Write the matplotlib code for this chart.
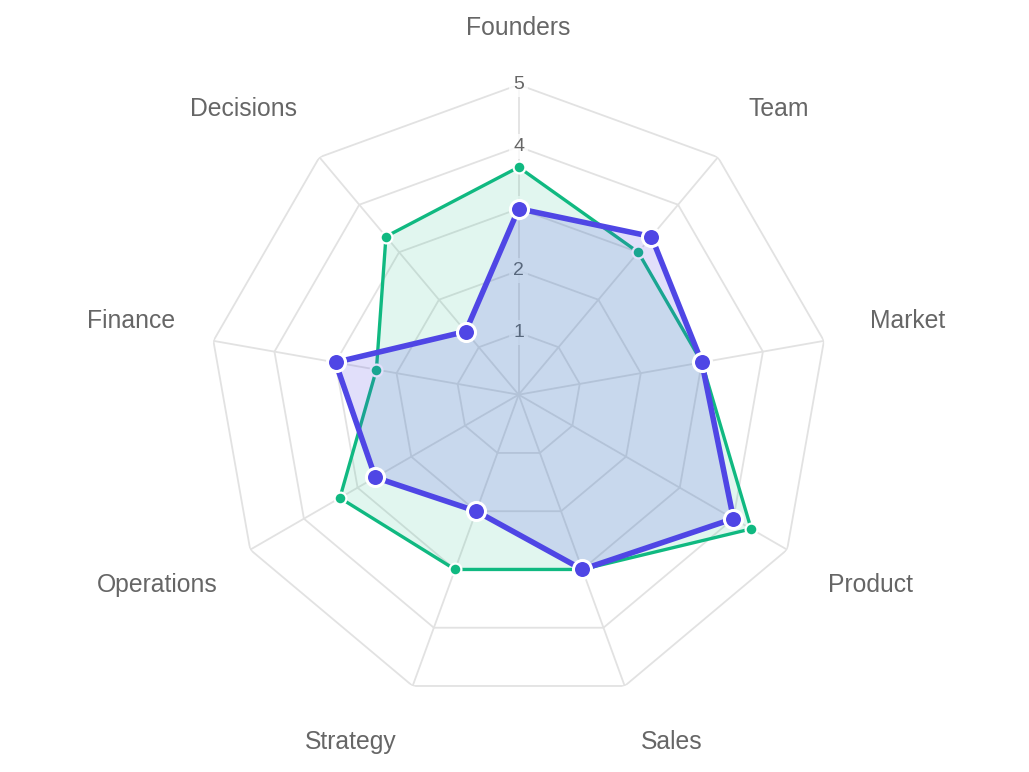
import numpy as np
import matplotlib
matplotlib.use("Agg")
import matplotlib.pyplot as plt
from matplotlib.transforms import offset_copy

# ---- data ----
categories = ["Founders", "Team", "Market", "Product", "Sales",
              "Strategy", "Operations", "Finance", "Decisions"]
green_values = [3.67, 3.0, 3.0, 4.33, 3.0, 3.0, 3.33, 2.33, 3.33]
blue_values = [3.0, 3.33, 3.0, 4.0, 3.0, 2.0, 2.67, 3.0, 1.33]
tick_values = [1, 2, 3, 4, 5]
r_max = 5

# ---- styles ----
GREEN = "#10b981"
BLUE = "#4f46e5"
GRID = "#e2e2e2"
TEXT = "#666666"
plt.rcParams['font.family'] = ['Liberation Sans', 'DejaVu Sans']

fig = plt.figure(figsize=(10.29, 7.72), dpi=100)
fig.patch.set_facecolor("white")
ax = fig.add_axes([0.2028, 0.0872, 0.6025, 0.8031], projection="polar")
ax.set_theta_zero_location("N")
ax.set_theta_direction(-1)
ax.set_ylim(0, r_max)
ax.set_axis_off()

n = len(categories)
angles = np.linspace(0, 2 * np.pi, n, endpoint=False)
closed = np.concatenate([angles, angles[:1]])

# grid rings (polygons)
for t in tick_values:
    ax.plot(closed, [t] * (n + 1), color=GRID, lw=1.3, zorder=1, solid_joinstyle="miter")
# spokes
for a in angles:
    ax.plot([a, a], [0, r_max], color=GRID, lw=1.3, zorder=1)

# tick labels with backdrop
for t in tick_values:
    ax.text(0, t, str(t), ha="center", va="center", fontsize=14, color=TEXT,
            zorder=1.5,
            bbox=dict(boxstyle="square,pad=0.2", fc="white", ec="none", alpha=0.75))

# point labels (Chart.js-like alignment)
label_r = 5.76
for a, lab in zip(angles, categories):
    deg = np.degrees(a) % 360
    dx, dy = 0, 0
    if abs(deg) < 1 or abs(deg - 180) < 1:
        ha = "center"
    elif deg < 180:
        ha = "left"
    else:
        ha = "right"
        if 230 < deg < 330:
            dx = 8
    if abs(deg - 90) < 1 or abs(deg - 270) < 1:
        va = "center"
    elif deg < 90 or deg > 270:
        va = "bottom"
    else:
        va = "top"
    if abs(deg) < 1:
        dy = -2
    tr = offset_copy(ax.transData, fig=fig, x=dx, y=dy, units="dots")
    ax.text(a, label_r, lab, ha=ha, va=va, fontsize=17.8, color=TEXT, zorder=10,
            transform=tr)

# green dataset
gv = np.concatenate([green_values, green_values[:1]])
ax.fill(closed, gv, color=GREEN, alpha=0.12, lw=0, zorder=2)
ax.plot(closed, gv, color=GREEN, lw=2.4, zorder=3, solid_joinstyle="miter")
ax.plot(angles, green_values, "o", ms=8.5, mfc=GREEN, mec="white", mew=1.6, zorder=4)

# blue dataset
bv = np.concatenate([blue_values, blue_values[:1]])
ax.fill(closed, bv, color=BLUE, alpha=0.17, lw=0, zorder=5)
ax.plot(closed, bv, color=BLUE, lw=4.0, zorder=6, solid_joinstyle="miter")
ax.plot(angles, blue_values, "o", ms=13, mfc=BLUE, mec="white", mew=2.2, zorder=7)

fig.savefig("out.png", dpi=100, facecolor="white")
